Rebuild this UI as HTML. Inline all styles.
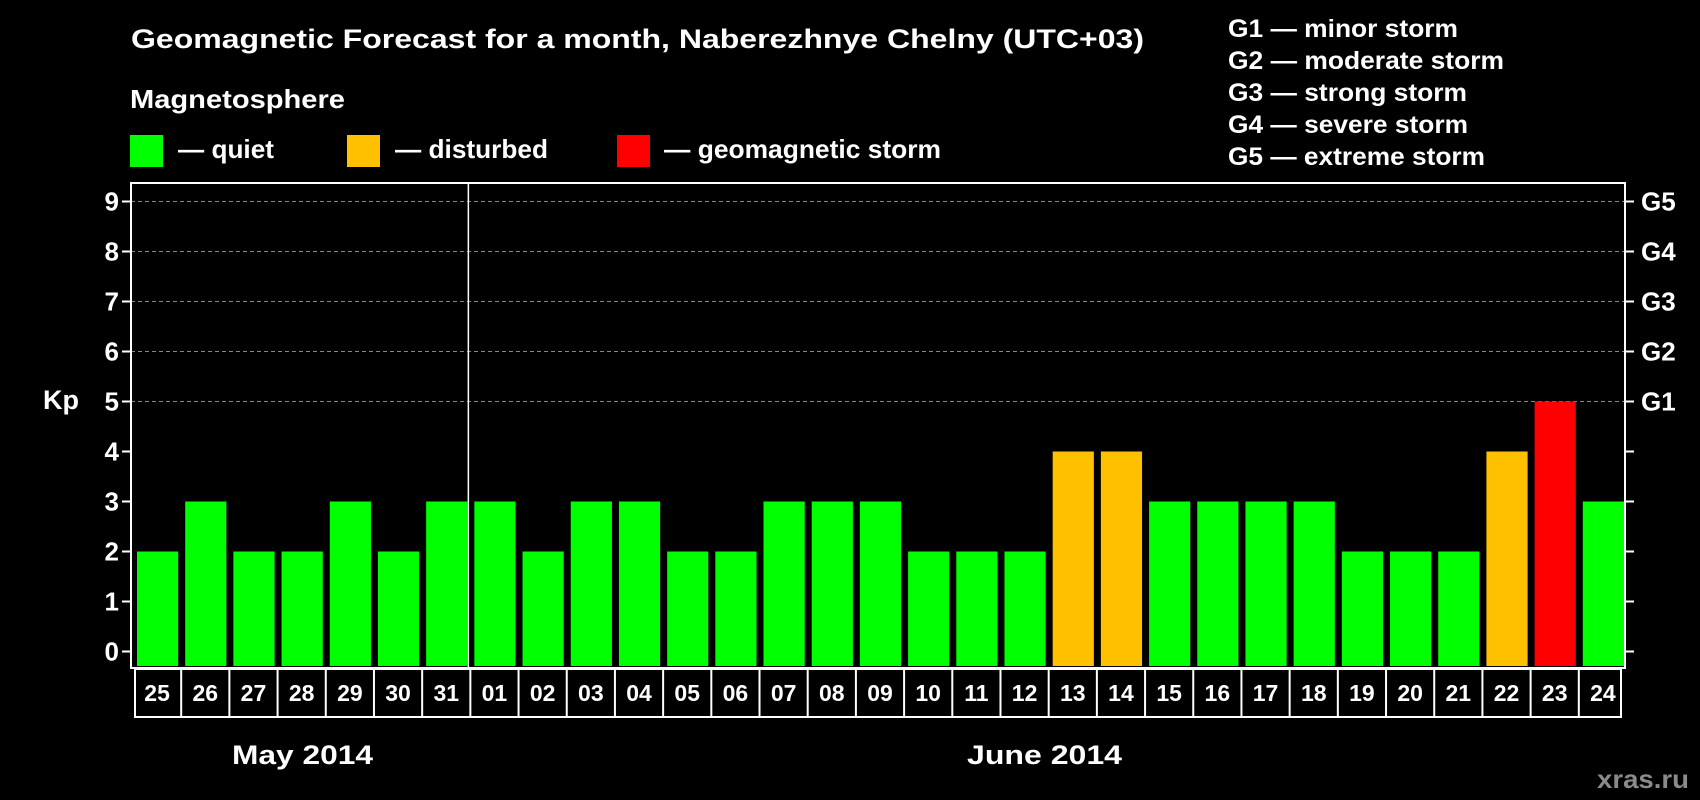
<!DOCTYPE html>
<html><head><meta charset="utf-8"><style>html,body{margin:0;background:#000}svg{display:block}text{font-family:"Liberation Sans",sans-serif;font-weight:bold;fill:#fff}</style></head>
<body>
<svg id="chart" width="1700" height="800" viewBox="0 0 1700 800">
<rect width="1700" height="800" fill="#000"/>
<text x="131" y="48" font-size="27" textLength="1013" lengthAdjust="spacingAndGlyphs">Geomagnetic Forecast for a month, Naberezhnye Chelny (UTC+03)</text>
<text x="130" y="108" font-size="26" textLength="215" lengthAdjust="spacingAndGlyphs">Magnetosphere</text>
<rect x="130" y="135" width="33" height="32" fill="#00ff00"/>
<text x="178" y="158" font-size="26" textLength="96" lengthAdjust="spacingAndGlyphs">— quiet</text>
<rect x="347" y="135" width="33" height="32" fill="#ffc000"/>
<text x="395" y="158" font-size="26" textLength="153" lengthAdjust="spacingAndGlyphs">— disturbed</text>
<rect x="617" y="135" width="33" height="32" fill="#ff0000"/>
<text x="664" y="158" font-size="26" textLength="277" lengthAdjust="spacingAndGlyphs">— geomagnetic storm</text>
<g font-size="25">
<text x="1228" y="37" textLength="230" lengthAdjust="spacingAndGlyphs">G1 — minor storm</text>
<text x="1228" y="69" textLength="276" lengthAdjust="spacingAndGlyphs">G2 — moderate storm</text>
<text x="1228" y="101" textLength="239" lengthAdjust="spacingAndGlyphs">G3 — strong storm</text>
<text x="1228" y="133" textLength="240" lengthAdjust="spacingAndGlyphs">G4 — severe storm</text>
<text x="1228" y="165" textLength="257" lengthAdjust="spacingAndGlyphs">G5 — extreme storm</text>
</g>
<text x="43" y="409" font-size="27">Kp</text>
<g id="grid"></g><g id="bars"></g><g id="axes"></g><g id="xlabels"></g>
<text x="232" y="764" font-size="27" textLength="141" lengthAdjust="spacingAndGlyphs">May 2014</text>
<text x="967" y="764" font-size="27" textLength="155" lengthAdjust="spacingAndGlyphs">June 2014</text>
<text x="1597" y="788" font-size="26" fill="#888" style="fill:#8a8a8a" textLength="92" lengthAdjust="spacingAndGlyphs">xras.ru</text>
</svg>
<script>
const days = ["25","26","27","28","29","30","31","01","02","03","04","05","06","07","08","09","10","11","12","13","14","15","16","17","18","19","20","21","22","23","24"];
const kpValues = [2,3,2,2,3,2,3,3,2,3,3,2,2,3,3,3,2,2,2,4,4,3,3,3,3,2,2,2,4,5,3];
const yTicks = [0,1,2,3,4,5,6,7,8,9];
const gLabels = ["G1","G2","G3","G4","G5"];
const gLevels = [5,6,7,8,9];
const monthSplitIndex = 7;

const NS="http://www.w3.org/2000/svg";
const L=131,R=1625,T=183,B=668;
const slot=(R-L)/days.length;
const y=v=>651.5-50*v;
const x=i=>L+i*slot;
function mk(tag,attrs,parent){const e=document.createElementNS(NS,tag);for(const k in attrs)e.setAttribute(k,attrs[k]);parent.appendChild(e);return e;}
const grid=document.getElementById('grid'),bars=document.getElementById('bars'),axes=document.getElementById('axes'),xl=document.getElementById('xlabels');
yTicks.forEach(v=>{
  if(v>=5){const g=mk('line',{x1:L,x2:R,y1:y(v),y2:y(v),stroke:'#888','stroke-width':1,'stroke-dasharray':'4,3'},grid);
  
  }
  const t=mk('line',{x1:L-9,x2:L,y1:y(v),y2:y(v),stroke:'#fff','stroke-width':2},axes);
  
  
  const t2=mk('line',{x1:R,x2:R+9,y1:y(v),y2:y(v),stroke:'#fff','stroke-width':2},axes);
  
  
  const lb=mk('text',{x:L-12,y:y(v)+9,'font-size':26,'text-anchor':'end'},axes);
  lb.textContent=v;
  
  
});
gLabels.forEach((g,i)=>{
  const lb=mk('text',{x:R+16,y:y(gLevels[i])+9,'font-size':26},axes);
  lb.textContent=g;
  
  
});
kpValues.forEach((v,i)=>{
  const c=v>=5?'#ff0000':v>=4?'#ffc000':'#00ff00';
  const r=mk('rect',{x:x(i)+6,y:y(v),width:slot-7,height:B-2-y(v),fill:c},bars);
  
  
});
const fr=mk('rect',{x:L,y:T,width:R-L,height:B-T,fill:'none',stroke:'#fff','stroke-width':2},axes);


const sp=mk('line',{x1:x(monthSplitIndex),x2:x(monthSplitIndex),y1:T,y2:B,stroke:'#fff','stroke-width':1.5},axes);


const lrow=mk('rect',{x:L+4,y:B+1,width:R-L-8,height:48,fill:'none',stroke:'#fff','stroke-width':2},xl);


days.forEach((d,i)=>{
  if(i>0){const s=mk('line',{x1:x(i)+2,x2:x(i)+2,y1:B+1,y2:B+49,stroke:'#fff','stroke-width':2},xl);
  
  }
  const t=mk('text',{x:x(i)+slot/2+2,y:B+33,'font-size':23,'text-anchor':'middle'},xl);
  t.textContent=d;
  
  
});
</script>
</body></html>
